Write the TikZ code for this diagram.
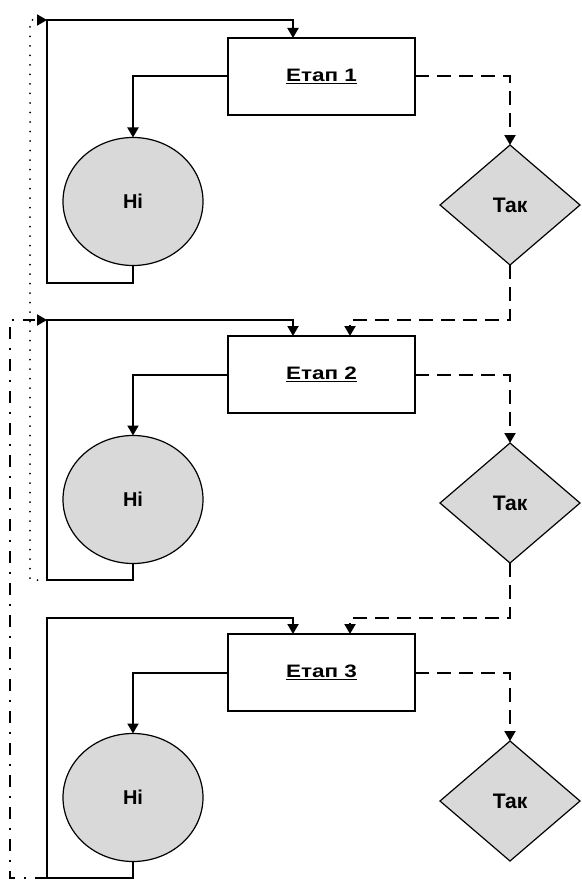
\documentclass[tikz,border=0pt]{standalone}
\usepackage{fontspec}
\setmainfont{Liberation Sans}
\newfontfamily\stagefont[FakeStretch=1.25]{Liberation Sans}
\usetikzlibrary{positioning,shapes.geometric,arrows.meta}
\definecolor{shapegray}{RGB}{217,217,217}
\tikzset{
  >={Triangle[length=10pt,width=11pt]},
  stagebox/.style={draw, line width=1.4pt, outer sep=0pt, minimum width=187pt, minimum height=77pt,
    font=\stagefont\bfseries\fontsize{18}{20}\selectfont},
  noshape/.style={ellipse, draw, line width=1.2pt, outer sep=0pt, fill=shapegray,
    minimum width=140pt, minimum height=128pt, font=\bfseries\fontsize{20}{24}\selectfont},
  yesshape/.style={diamond, draw, line width=1.2pt, outer sep=0pt, inner sep=0pt, fill=shapegray,
    minimum width=140pt, minimum height=120pt, font=\bfseries\fontsize{21}{24}\selectfont},
  flow/.style={line width=2pt},
  yesflow/.style={flow, dash pattern=on 14pt off 8pt},
  backflow/.style={flow, line cap=round, dash pattern=on 0pt off 9.5pt},
  skipflow/.style={flow, dash pattern=on 12pt off 9pt on 2pt off 9pt},
}

\begin{document}
\begin{tikzpicture}[x=1pt, y=1pt, node distance=298pt, on grid]
    \useasboundingbox (0,0) rectangle (581,-880);
    % stages
    \node[stagebox] (b1) at (321.5,-76.5) {\underline{Етап 1}};
    \node[stagebox, below=of b1] (b2) {\underline{Етап 2}};
    \node[stagebox, below=of b2] (b3) {\underline{Етап 3}};
    % answers
    \node[noshape, below left=125pt and 188.5pt of b1]   (n1) {Ні};
    \node[noshape, below left=125pt and 188.5pt of b2]   (n2) {Ні};
    \node[noshape, below left=125pt and 188.5pt of b3]   (n3) {Ні};
    \node[yesshape, below right=128.5pt and 188.5pt of b1] (d1) {Так};
    \node[yesshape, below right=128.5pt and 188.5pt of b2] (d2) {Так};
    \node[yesshape, below right=128.5pt and 188.5pt of b3] (d3) {Так};
    % loop corners
    \coordinate (c1) at (47,-20);
    \coordinate (c2) at (47,-320);
    \coordinate (c3) at (47,-618);
    \coordinate (f1) at (47,-283);
    \coordinate (f2) at (47,-580);
    \coordinate (f3) at (47,-878);

    \draw[flow, ->] (b1.west) -| (n1.north);
    \draw[flow, ->] (b2.west) -| (n2.north);
    \draw[flow, ->] (b3.west) -| (n3.north);
    \draw[flow, ->] (n1.south) |- (f1) -- (c1) -| ([xshift=-28.5pt]b1.north);
    \draw[flow, ->] (n2.south) |- (f2) -- (c2) -| ([xshift=-28.5pt]b2.north);
    \draw[flow, ->] (n3.south) |- (f3) -- (c3) -| ([xshift=-28.5pt]b3.north);

    \draw[yesflow, ->] (b1.east) -| (d1.north);
    \draw[yesflow, ->] (b2.east) -| (d2.north);
    \draw[yesflow, ->] (b3.east) -| (d3.north);
    \draw[yesflow, ->] (d1.south) |- ([xshift=28.5pt,yshift=16pt]b2.north) -- ([xshift=28.5pt]b2.north);
    \draw[yesflow, ->] (d2.south) |- ([xshift=28.5pt,yshift=16pt]b3.north) -- ([xshift=28.5pt]b3.north);

    \draw[backflow, ->] (f2) -- ++(-17pt,0) |- (c1);
    \draw[skipflow, ->] (f3) -- ++(-37pt,0) |- (c2);
\end{tikzpicture}
\end{document}
